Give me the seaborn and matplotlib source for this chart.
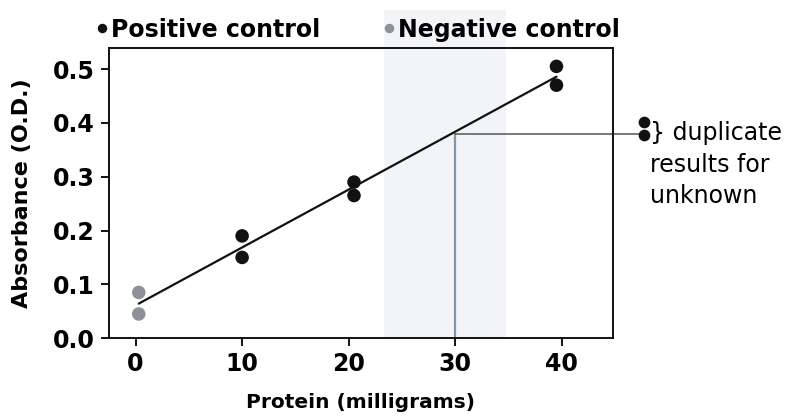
"""
Protein standard curve — absorbance vs protein with controls and unknown read-off.
"""

import numpy as np
import pandas as pd
import matplotlib
matplotlib.use("Agg")
import matplotlib.pyplot as plt
import seaborn as sns


# ── Data ───────────────────────────────────────────────────────────────────────
protein    = [0.3, 0.3, 10, 10, 20.5, 20.5, 39.5, 39.5]
absorbance = [0.085, 0.045, 0.19, 0.15, 0.29, 0.265, 0.505, 0.47]
group      = ["Negative control"] * 2 + ["Positive control"] * 6

unknown_abs     = 0.38
unknown_protein = 30

X_TICKS = [0, 10, 20, 30, 40]
Y_TICKS = [0.0, 0.1, 0.2, 0.3, 0.4, 0.5]

COLORS = {"Positive control": "#111111", "Negative control": "#8c9298"}

df = pd.DataFrame({"Protein": protein, "Absorbance": absorbance, "Group": group})


# ── Figure ─────────────────────────────────────────────────────────────────────
sns.set_theme(style="ticks")
plt.rcParams["font.family"] = ["DejaVu Sans"]
plt.rcParams["text.color"] = "black"
plt.rcParams["axes.labelcolor"] = "black"
plt.rcParams["xtick.color"] = "black"
plt.rcParams["ytick.color"] = "black"

fig = plt.figure(figsize=(7.95, 4.18), dpi=100)
ax = fig.add_axes([0.137, 0.191, 0.634, 0.694])

# faint scanned band behind the read-off region
ax.axvspan(23.3, 34.8, ymax=1.13, color="#f2f4f7", zorder=0, lw=0, clip_on=False)

# fit line through all standards
sns.regplot(data=df, x="Protein", y="Absorbance", scatter=False, ci=None,
            truncate=True, color="#111111", line_kws={"lw": 1.6, "zorder": 3}, ax=ax)

sns.scatterplot(data=df, x="Protein", y="Absorbance", hue="Group",
                hue_order=["Positive control", "Negative control"],
                palette=COLORS, s=95, edgecolor="none", zorder=4, ax=ax)

# read-off lines for the unknown
ax.plot([unknown_protein, unknown_protein], [0, unknown_abs],
        color="#8496a8", lw=1.6, zorder=2)
ax.plot([unknown_protein, 47.3], [unknown_abs, unknown_abs],
        color="#555555", lw=1.1, zorder=2, clip_on=False)

ax.set_xlim(-2.5, 44.8)
ax.set_ylim(0, 0.539)
ax.set_xticks(X_TICKS)
ax.set_yticks(Y_TICKS)
ax.set_yticklabels([f"{v:.1f}" for v in Y_TICKS])
ax.tick_params(axis="both", direction="out", length=6, width=1.3,
               labelsize=17, pad=4)
for lbl in ax.get_xticklabels() + ax.get_yticklabels():
    lbl.set_fontweight("bold")
ax.set_xlabel("Protein (milligrams)", fontsize=14.5, fontweight="bold", labelpad=12)
ax.set_ylabel("Absorbance (O.D.)", fontsize=16, fontweight="bold", labelpad=15)
for sp in ax.spines.values():
    sp.set_linewidth(1.4)
    sp.set_color("#111111")

# legend on top
sns.move_legend(ax, "lower left", bbox_to_anchor=(-0.08, 0.99), ncol=2,
                title=None, frameon=False, handletextpad=-0.6, columnspacing=1.9,
                markerscale=0.7, fontsize=17, borderaxespad=0)
for t in ax.get_legend().get_texts():
    t.set_fontweight("semibold")

# duplicate unknown annotation
ax.scatter([47.7, 47.7], [0.401, 0.377], s=55, color="#111111",
           clip_on=False, zorder=5)
ax.text(48.3, 0.381, "} duplicate", fontsize=17, va="center", ha="left")
ax.text(48.3, 0.321, "results for", fontsize=17, va="center", ha="left")
ax.text(48.3, 0.265, "unknown", fontsize=17, va="center", ha="left")

plt.savefig("out.png", dpi=100)
plt.close()
